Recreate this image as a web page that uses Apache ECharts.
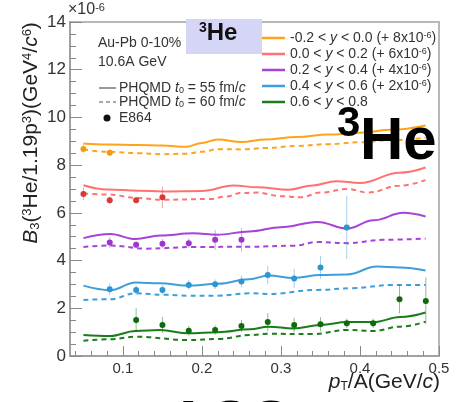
<!DOCTYPE html>
<html><head><meta charset="utf-8">
<script src="https://cdn.jsdelivr.net/npm/echarts@6/dist/echarts.min.js"></script>
<style>html,body{margin:0;padding:0;background:#fff}#c{width:462px;height:402px}</style>
</head><body><div id="c"></div>
<script>
// ---- data ----
const xTicks = [0.1, 0.2, 0.3, 0.4, 0.5];
const xMinorTicks = [0.04,0.06,0.08,0.12,0.14,0.16,0.18,0.22,0.24,0.26,0.28,0.32,0.34,0.36,0.38,0.42,0.44,0.46,0.48];
const seriesNames = ['-0.2 < y < 0.0 (+ 8x10^-6)','0.0 < y < 0.2 (+ 6x10^-6)','0.2 < y < 0.4 (+ 4x10^-6)','0.4 < y < 0.6 (+ 2x10^-6)','0.6 < y < 0.8'];
const orangeSolid = [[0.05,8.91],[0.08,8.87],[0.12,8.84],[0.15,8.82],[0.18,8.77],[0.2,8.93],[0.22,9.08],[0.25,8.97],[0.28,9.08],[0.32,9.18],[0.36,9.28],[0.4,9.36],[0.44,9.48],[0.483,9.66]];
const orangeDashed = [[0.05,8.66],[0.08,8.56],[0.12,8.50],[0.15,8.46],[0.18,8.48],[0.2,8.56],[0.22,8.67],[0.25,8.66],[0.28,8.72],[0.32,8.80],[0.36,8.88],[0.4,8.96],[0.44,9.05],[0.483,9.15]];
const redSolid = [[0.05,7.16],[0.08,6.98],[0.12,6.93],[0.15,6.90],[0.2,6.92],[0.24,7.15],[0.27,7.07],[0.31,6.97],[0.34,7.15],[0.37,7.33],[0.4,7.25],[0.45,7.68],[0.483,7.9]];
const redDashed = [[0.05,6.81],[0.08,6.77],[0.12,6.62],[0.15,6.55],[0.21,6.58],[0.23,6.68],[0.25,6.83],[0.27,6.85],[0.3,6.70],[0.325,6.65],[0.35,6.85],[0.384,7.0],[0.41,6.85],[0.45,7.14],[0.483,7.37]];
const purpleSolid = [[0.05,4.94],[0.084,5.11],[0.116,4.90],[0.147,5.05],[0.189,5.14],[0.219,5.08],[0.26,5.22],[0.3,5.40],[0.346,5.62],[0.384,5.34],[0.417,5.69],[0.455,6.0],[0.483,5.85]];
const purpleDashed = [[0.05,4.57],[0.084,4.63],[0.13,4.50],[0.19,4.57],[0.26,4.58],[0.316,4.62],[0.346,4.78],[0.384,4.73],[0.43,4.87],[0.483,4.92]];
const blueSolid = [[0.05,2.95],[0.084,2.76],[0.116,3.08],[0.147,3.05],[0.183,2.95],[0.22,3.03],[0.26,3.22],[0.284,3.37],[0.316,3.27],[0.35,3.39],[0.384,3.42],[0.421,3.75],[0.451,3.71],[0.483,3.58]];
const blueDashed = [[0.05,2.35],[0.084,2.38],[0.116,2.63],[0.15,2.57],[0.183,2.53],[0.22,2.53],[0.26,2.63],[0.284,2.60],[0.346,2.77],[0.39,2.84],[0.44,2.98],[0.483,2.98]];
const greenSolid = [[0.05,0.88],[0.084,0.84],[0.116,1.05],[0.147,1.09],[0.183,0.95],[0.22,1.0],[0.261,1.12],[0.284,1.23],[0.316,1.15],[0.35,1.30],[0.384,1.42],[0.417,1.42],[0.451,1.63],[0.483,1.82]];
const greenDashed = [[0.05,0.64],[0.084,0.70],[0.116,0.81],[0.183,0.67],[0.22,0.71],[0.261,0.88],[0.284,0.93],[0.34,0.92],[0.384,1.09],[0.417,1.05],[0.451,1.23],[0.483,1.44]];
// E864 points: [pT/A, B3, error]
const orangeE864 = [[0.05,8.68,0.2],[0.0833,8.52,0.15]];
const redE864 = [[0.05,6.79,0.26],[0.0833,6.53,0.15],[0.1167,6.53,0.12],[0.15,6.65,0.45]];
const purpleE864 = [[0.0833,4.76,0.22],[0.1167,4.66,0.15],[0.15,4.71,0.2],[0.1833,4.73,0.2],[0.2167,4.87,0.42],[0.25,4.87,0.49]];
const blueE864 = [[0.0833,2.80,0.25],[0.1167,2.77,0.2],[0.15,2.77,0.2],[0.1833,2.98,0.2],[0.2167,3.01,0.2],[0.25,3.12,0.25],[0.2833,3.39,0.38],[0.3167,3.25,0.4],[0.35,3.71,0.47],[0.3833,5.39,1.33]];
const greenE864 = [[0.1167,1.51,0.5],[0.15,1.30,0.34],[0.1833,1.06,0.2],[0.2167,1.09,0.2],[0.25,1.26,0.25],[0.2833,1.42,0.38],[0.3167,1.30,0.3],[0.35,1.33,0.3],[0.3833,1.37,0.2],[0.4167,1.37,0.2],[0.45,2.38,0.6],[0.4833,2.31,0.98]];

// ---- styles ----
const FONT = 'Liberation Sans';
const lineColors = ['#ffa31a','#ff7272','#a743d8','#3d9fd9','#1a7d1a'];
const ptColors = ['#f29b12','#d63a3a','#9c36cc','#2e95d3','#0d6b0d'];
const solids = [orangeSolid, redSolid, purpleSolid, blueSolid, greenSolid];
const dashes = [orangeDashed, redDashed, purpleDashed, blueDashed, greenDashed];
const points = [orangeE864, redE864, purpleE864, blueE864, greenE864];

const series = [];
for (let i = 0; i < 5; i++) {
  series.push({type:'line', name: seriesNames[i], data: solids[i], smooth: 0.4, smoothMonotone:'x', symbol:'none',
    lineStyle:{color: lineColors[i], width: 2}, z: 3});
  series.push({type:'line', data: dashes[i], smooth: 0.4, smoothMonotone:'x', symbol:'none',
    lineStyle:{color: lineColors[i], width: 2, type:[5,4]}, z: 3});
  const c = ptColors[i];
  series.push({type:'custom', data: points[i], encode:{x:0, y:1}, z: 4,
    renderItem: function(params, api){
      const x = api.value(0), y = api.value(1), e = api.value(2);
      const p = api.coord([x, y]);
      const lo = api.coord([x, y - e]);
      const hi = api.coord([x, y + e]);
      return {type:'group', children:[
        {type:'line', shape:{x1:p[0], y1:lo[1], x2:p[0], y2:hi[1]}, style:{stroke:c, lineWidth:1, opacity:0.45}},
        {type:'circle', shape:{cx:p[0], cy:p[1], r:3}, style:{fill:c}}
      ]};
    }});
}

const LF = 14; // legend font size
const graphics = [
  {type:'text', left: 68, top: 2, style:{text:'×10{s|-6}', font:'16px '+FONT, fill:'#333', rich:{s:{fontSize:11, verticalAlign:'top', fill:'#333'}}}},
  // y axis title
  {type:'text', x: 31, y: 133, rotation: Math.PI/2, style:{
    text:'{i|B}{b|3}({s|3}He/1.19p{s|3})(GeV{s|4}/{i|c}{s|6})', align:'center', verticalAlign:'middle',
    font:'21px '+FONT, fill:'#222',
    rich:{i:{fontStyle:'italic', fontSize:21, fill:'#222'}, b:{fontSize:13, verticalAlign:'bottom', fill:'#222'}, s:{fontSize:13, verticalAlign:'top', fill:'#222'}}}},
  // x axis title
  {type:'text', x: 440, y: 382, style:{
    text:'{i|p}{b|T}/A(GeV/{i|c})', align:'right', verticalAlign:'middle', font:'21px '+FONT, fill:'#222',
    rich:{i:{fontStyle:'italic', fontSize:21, fill:'#222'}, b:{fontSize:12, verticalAlign:'bottom', fill:'#222'}}}},
  // info text
  {type:'text', x: 98, y: 43, style:{text:'Au-Pb 0-10%', verticalAlign:'middle', font:LF+'px '+FONT, fill:'#333'}},
  {type:'text', x: 98, y: 62, style:{text:'10.6A GeV', verticalAlign:'middle', font:LF+'px '+FONT, fill:'#333'}},
  {type:'line', shape:{x1:99, y1:88, x2:116, y2:88}, style:{stroke:'#555', lineWidth:1.2}},
  {type:'text', x: 119, y: 88, style:{text:'PHQMD {i|t}{b|0} = 55 fm/{i|c}', verticalAlign:'middle', font:LF+'px '+FONT, fill:'#333',
    rich:{i:{fontStyle:'italic', fontSize:LF, fill:'#333'}, b:{fontSize:9, verticalAlign:'bottom', fill:'#333'}}}},
  {type:'line', shape:{x1:99, y1:102, x2:116, y2:102}, style:{stroke:'#555', lineWidth:1.2, lineDash:[4,3]}},
  {type:'text', x: 119, y: 102, style:{text:'PHQMD {i|t}{b|0} = 60 fm/{i|c}', verticalAlign:'middle', font:LF+'px '+FONT, fill:'#333',
    rich:{i:{fontStyle:'italic', fontSize:LF, fill:'#333'}, b:{fontSize:9, verticalAlign:'bottom', fill:'#333'}}}},
  {type:'circle', shape:{cx:107, cy:118, r:3.5}, style:{fill:'#111'}},
  {type:'text', x: 119, y: 118, style:{text:'E864', verticalAlign:'middle', font:LF+'px '+FONT, fill:'#333'}},
  // label box (drawn over the legend text like the reference)
  {type:'rect', shape:{x:186, y:19, width:76, height:35}, style:{fill:'#d5d5f5'}, z: 10},
  {type:'text', x: 199, y: 33, z: 11, style:{text:'{s|3}He', align:'left', verticalAlign:'middle', font:'bold 24px '+FONT, fill:'#111',
    rich:{s:{fontSize:14, fontWeight:'bold', verticalAlign:'top', fill:'#111'}}}},
  // big labels
  {type:'text', x: 337, y: 124, z: 20, style:{text:'3', verticalAlign:'middle', font:'bold 42px '+FONT, fill:'#000'}},
  {type:'text', x: 360, y: 142, z: 20, style:{text:'He', verticalAlign:'middle', font:'bold 60px '+FONT, fill:'#000'}},
  {type:'text', x: 168, y: 424, z: 20, style:{text:'AGS', verticalAlign:'middle', font:'bold 56px '+FONT, fill:'#000'}}
];
// right legend
const legendY = [38, 54, 70, 86, 102];
const legendTexts = [
  '-0.2 < {i|y} < 0.0 (+ 8x10{s|-6})',
  '0.0 < {i|y} < 0.2 (+ 6x10{s|-6})',
  '0.2 < {i|y} < 0.4 (+ 4x10{s|-6})',
  '0.4 < {i|y} < 0.6 (+ 2x10{s|-6})',
  '0.6 < {i|y} < 0.8'
];
for (let i = 0; i < 5; i++) {
  graphics.push({type:'line', shape:{x1:262, y1:legendY[i], x2:285, y2:legendY[i]}, style:{stroke: lineColors[i], lineWidth: 2.5}});
  graphics.push({type:'text', x: 290, y: legendY[i], style:{text: legendTexts[i], verticalAlign:'middle', font:LF+'px '+FONT, fill:'#333',
    rich:{i:{fontStyle:'italic', fontSize:LF, fill:'#333'}, s:{fontSize:9, verticalAlign:'top', fill:'#333'}}}});
}

const chart = echarts.init(document.getElementById('c'), null, {renderer:'canvas'});
chart.setOption({
  animation: false,
  backgroundColor: '#fff',
  grid: {left: 70, right: 23, top: 22, bottom: 46, show: true, borderColor: '#b8b8b8', borderWidth: 2, backgroundColor: 'transparent'},
  xAxis: [{
    type: 'value', min: 0.033, max: 0.5,
    axisLine: {lineStyle: {color: '#999', width: 1.5}},
    axisTick: {inside: true, length: 10, lineStyle: {color: '#888'}, customValues: xTicks},
    axisLabel: {customValues: xTicks, color: '#333', fontSize: 15, fontFamily: FONT, margin: 5},
    splitLine: {show: false}
  }, {
    type: 'value', min: 0.033, max: 0.5, position: 'bottom',
    axisLine: {show: false},
    axisTick: {inside: true, length: 5, lineStyle: {color: '#888'}, customValues: xMinorTicks},
    axisLabel: {show: false},
    splitLine: {show: false}
  }],
  yAxis: {
    type: 'value', min: 0, max: 14, interval: 2,
    axisLine: {show: true, lineStyle: {color: '#999', width: 1.5}},
    axisTick: {show: true, inside: true, length: 12, lineStyle: {color: '#888'}},
    minorTick: {show: true, splitNumber: 4, length: 6, lineStyle: {color: '#888'}},
    axisLabel: {color: '#333', fontSize: 17, fontFamily: FONT, margin: 4},
    splitLine: {show: false}
  },
  series: series,
  graphic: graphics
});
</script>
</body></html>
